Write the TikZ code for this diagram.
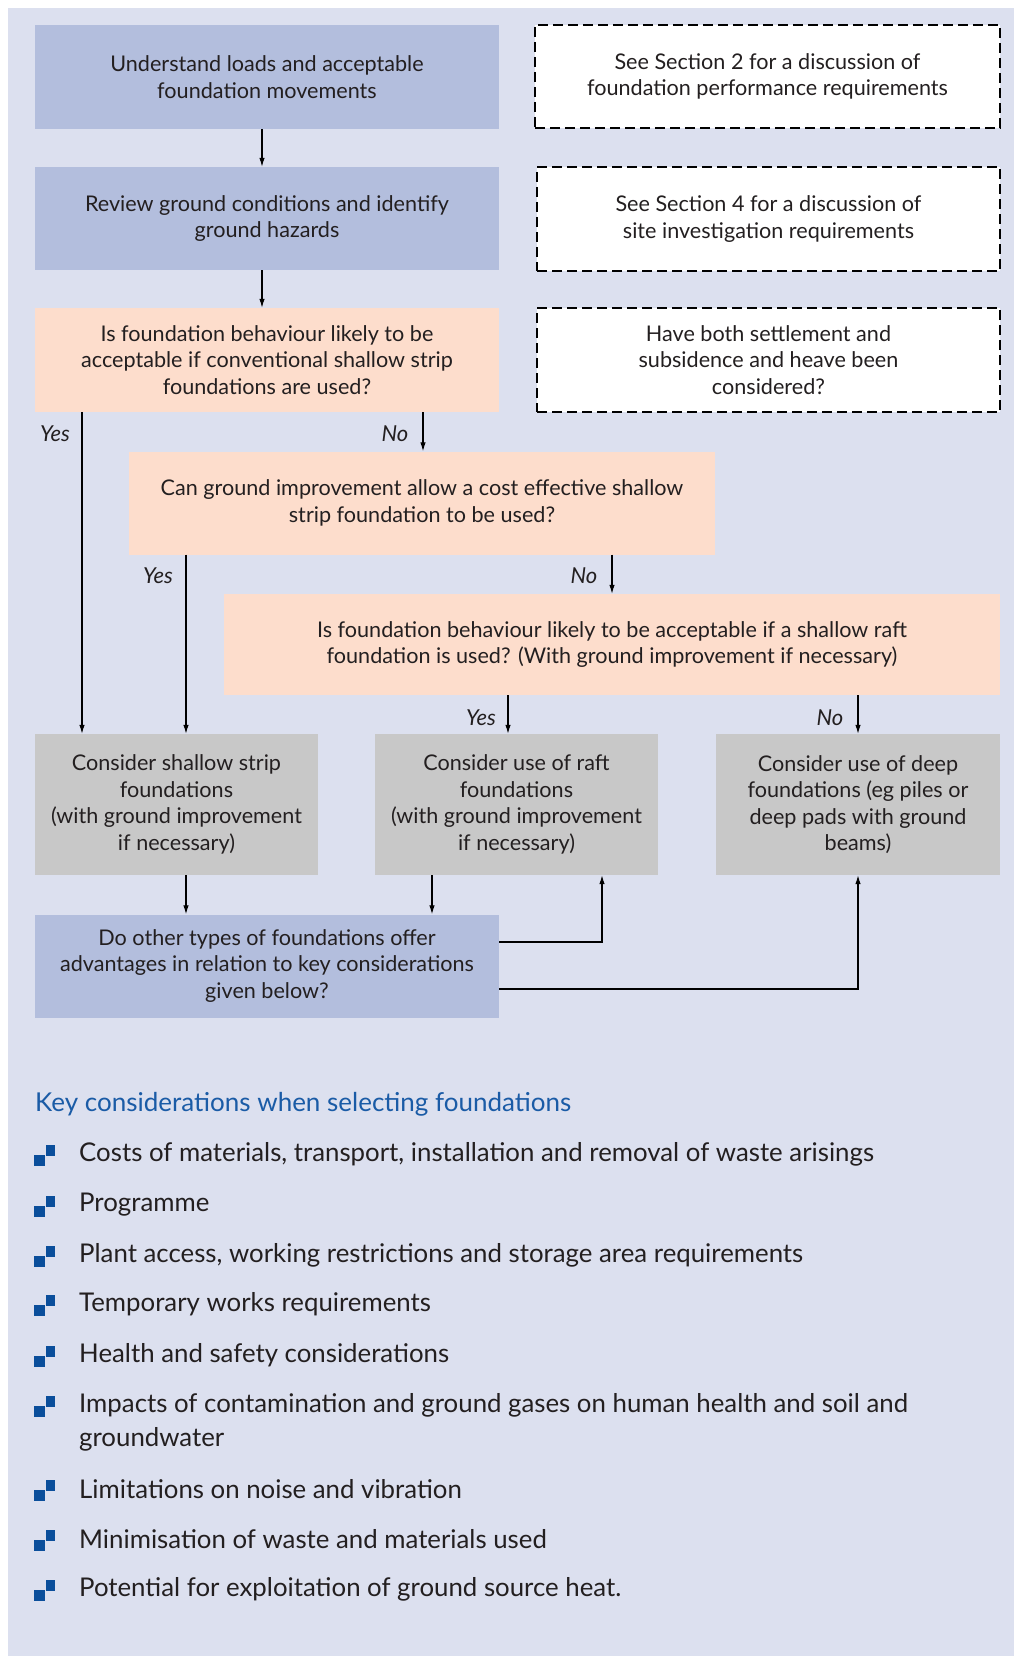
\documentclass[tikz,border=0pt]{standalone}
\usepackage{fontspec}
\setmainfont{Lato}
\usetikzlibrary{arrows.meta}
\definecolor{bgc}{RGB}{220,224,239}
\definecolor{bluebox}{RGB}{179,190,221}
\definecolor{orangebox}{RGB}{253,221,204}
\definecolor{graybox}{RGB}{200,200,200}
\definecolor{headblue}{RGB}{26,91,166}
\definecolor{bulcol}{RGB}{10,78,155}
\definecolor{txt}{RGB}{35,31,32}
\tikzset{
  boxbase/.style={rectangle, inner sep=0pt, align=center, text=txt,
    font=\fontsize{21.6}{26.5}\selectfont},
  bluenode/.style={boxbase, fill=bluebox},
  orangenode/.style={boxbase, fill=orangebox},
  graynode/.style={boxbase, fill=graybox},
  dashnode/.style={boxbase, fill=white, draw=black, line width=2.6pt, dash pattern=on 10pt off 5pt},
  arr/.style={draw=black, line width=1.1pt, -{Latex[length=9pt,width=5.5pt]}},
  lbl/.style={inner sep=0pt, text=txt, font=\fontsize{22}{26}\selectfont\itshape},
  item/.style={anchor=west, inner sep=0pt, text=txt, align=left, font=\fontsize{25.8}{34}\selectfont},
  bullet/.pic={\fill[bulcol] (12,0) rectangle (21,11); \fill[bulcol] (0,10) rectangle (11,21);}
}
\begin{document}
\begin{tikzpicture}[x=1pt,y=-1pt]
\fill[white] (0,0) rectangle (1014,1656);
\fill[bgc] (8,8) rectangle (1014,1656);
\useasboundingbox (0,0) rectangle (1014,1656);

\node[bluenode, minimum width=464pt, minimum height=104pt] (b1) at (267,77) {Understand loads and acceptable\\foundation movements};
\node[dashnode, minimum width=465pt, minimum height=103pt] (d1) at (767.5,76.5) {See Section 2 for a discussion of\\foundation performance requirements};
\node[bluenode, minimum width=464pt, minimum height=103pt] (b2) at (267,218.5) {Review ground conditions and identify\\ground hazards};
\node[dashnode, minimum width=463pt, minimum height=104pt] (d2) at (768.5,219) {See Section 4 for a discussion of\\site investigation requirements};
\node[orangenode, minimum width=464pt, minimum height=104pt] (b3) at (267,360) {Is foundation behaviour likely to be\\acceptable if conventional shallow strip\\foundations are used?};
\node[dashnode, minimum width=463pt, minimum height=104pt] (d3) at (768.5,360) {Have both settlement and\\subsidence and heave been\\considered?};
\node[orangenode, minimum width=586pt, minimum height=103pt] (b4) at (422,503) {Can ground improvement allow a cost effective shallow\\strip foundation to be used?};
\node[orangenode, minimum width=776pt, minimum height=101pt] (b5) at (612,644.5) {Is foundation behaviour likely to be acceptable if a shallow raft\\foundation is used? (With ground improvement if necessary)};
\node[graynode, minimum width=283pt, minimum height=141pt] (g1) at (176.5,804.5) {Consider shallow strip\\foundations\\(with ground improvement\\if necessary)};
\node[graynode, minimum width=283pt, minimum height=141pt] (g2) at (516.5,804.5) {Consider use of raft\\foundations\\(with ground improvement\\if necessary)};
\node[graynode, minimum width=284pt, minimum height=141pt] (g3) at (858,804.5) {Consider use of deep\\foundations (eg piles or\\deep pads with ground\\beams)};
\node[bluenode, minimum width=464pt, minimum height=103pt] (b6) at (267,966) {Do other types of foundations offer\\advantages in relation to key considerations\\given below?};

% connectors
\draw[arr] (b1.south -| 262,0) -- (b2.north -| 262,0);
\draw[arr] (b2.south -| 262,0) -- (b3.north -| 262,0);
\draw[arr] (b3.south -| 82,0) -- (g1.north -| 82,0);
\draw[arr] (b3.south -| 423,0) -- (b4.north -| 423,0);
\draw[arr] (b4.south -| 186,0) -- (g1.north -| 186,0);
\draw[arr] (b4.south -| 612,0) -- (b5.north);
\draw[arr] (b5.south -| 508,0) -- (g2.north -| 508,0);
\draw[arr] (b5.south -| g3.north) -- (g3.north);
\draw[arr] (g1.south -| 186,0) -- (b6.north -| 186,0);
\draw[arr] (g2.south -| 432,0) -- (b6.north -| 432,0);
\draw[arr] (b6.east |- 0,942) -| (g2.south -| 602,0);
\draw[arr] (b6.east |- 0,989) -| (g3.south);

% labels
\node[lbl] (y1) at (55,434) {Yes};
\node[lbl] (n1) at (395,434) {No};
\node[lbl] (y2) at (158,576) {Yes};
\node[lbl] (n2) at (584,576) {No};
\node[lbl] (y3) at (481,718) {Yes};
\node[lbl] (n3) at (830,718) {No};

% key considerations
\node[anchor=west, inner sep=0pt, text=headblue, font=\fontsize{26}{30}\selectfont] (kh) at (35,1104) {Key considerations when selecting foundations};
\foreach \yy/\tt/\nm in {1154/{Costs of materials, transport, installation and removal of waste arisings}/i1,
  1205/{Programme}/i2,
  1255/{Plant access, working restrictions and storage area requirements}/i3,
  1304/{Temporary works requirements}/i4,
  1355/{Health and safety considerations}/i5,
  1489/{Limitations on noise and vibration}/i7,
  1539/{Minimisation of waste and materials used}/i8,
  1589/{Potential for exploitation of ground source heat.}/i9}{
  \pic at (34,\yy-9) {bullet};
  \node[item] (\nm) at (79,\yy) {\tt};
}
\pic at (34,1396) {bullet};
\node[item, anchor=north west] (i6) at (79,1393) {Impacts of contamination and ground gases on human health and soil and\\groundwater};
\end{tikzpicture}
\end{document}
